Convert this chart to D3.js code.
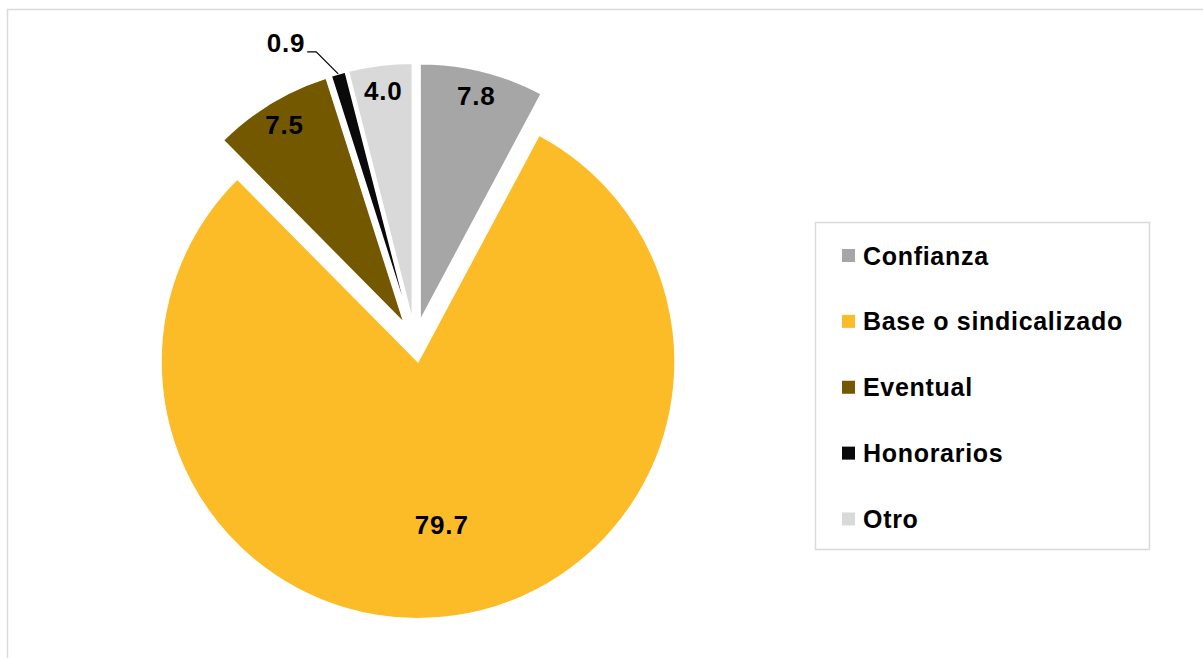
<!DOCTYPE html>
<meta charset='utf-8'>
<html>

<head>
    <script src="https://cdn.jsdelivr.net/npm/d3@7"></script>
    <style>
        body {
            padding: 0;
            margin: 0;
            background: #fff;
        }

        svg text {
            font-family: "Liberation Sans", Arial, sans-serif;
            font-weight: bold;
        }
    </style>
</head>

<body>
    <div id="chart"></div>

    <script>
        // datos
        const categories = ["Confianza", "Base o sindicalizado", "Eventual", "Honorarios", "Otro"];
        const values = [7.8, 79.7, 7.5, 0.9, 4.0];
        const colors = ["#a6a6a6", "#fbbc28", "#745800", "#0a0a0a", "#d9d9d9"];

        const width = 1203, height = 658;
        const cx = 415, cy = 341, radius = 257, explode = 21;

        var svg = d3.select("#chart").append("svg")
            .attr("width", width)
            .attr("height", height);

        // marco exterior
        svg.append("rect")
            .attr("x", 7.5).attr("y", 9.5)
            .attr("width", width).attr("height", height)
            .attr("fill", "none")
            .attr("stroke", "#d9d9d9")
            .attr("stroke-width", 1.5);

        var pie = d3.pie().sort(null).value(d => d);
        var arc = d3.arc().innerRadius(0).outerRadius(radius);
        var arcs = pie(values);

        var mid = d => (d.startAngle + d.endAngle) / 2;
        var shift = d => [explode * Math.sin(mid(d)), -explode * Math.cos(mid(d))];

        var g = svg.append("g").attr("transform", "translate(" + cx + "," + cy + ")");

        var slices = g.selectAll(".slice")
            .data(arcs)
            .enter()
            .append("g")
            .attr("class", "slice")
            .attr("transform", d => "translate(" + shift(d) + ")");

        slices.append("path")
            .attr("d", arc)
            .attr("fill", (d, i) => colors[i])
            .attr("stroke", "#fff")
            .attr("stroke-width", 1.5);

        // etiquetas
        slices.each(function (d, i) {
            var a = mid(d);
            var sel = d3.select(this);
            if (values[i] < 2) {
                // etiqueta fuera con linea guia
                var ox = radius * Math.sin(a), oy = -radius * Math.cos(a);
                var ex = ox - 22, ey = oy - 22;
                sel.append("polyline")
                    .attr("points", [[ox, oy], [ex, ey], [ex - 9, ey]].join(" "))
                    .attr("fill", "none")
                    .attr("stroke", "#000")
                    .attr("stroke-width", 1.2);
                sel.append("text")
                    .attr("x", ex - 11)
                    .attr("y", ey + 0.5)
                    .attr("text-anchor", "end")
                    .attr("font-size", 26)
                    .attr("letter-spacing", 0.8)
                    .text(values[i].toFixed(1));
            } else {
                var lr = values[i] > 50 ? radius * 0.64 : radius * 0.9;
                sel.append("text")
                    .attr("x", lr * Math.sin(a))
                    .attr("y", -lr * Math.cos(a))
                    .attr("dy", "0.35em")
                    .attr("text-anchor", "middle")
                    .attr("font-size", 26)
                    .attr("letter-spacing", 0.8)
                    .text(values[i].toFixed(1));
            }
        });

        // leyenda
        var legend = svg.append("g");
        legend.append("rect")
            .attr("x", 815.5).attr("y", 222.5)
            .attr("width", 334).attr("height", 327)
            .attr("fill", "#fff")
            .attr("stroke", "#d9d9d9")
            .attr("stroke-width", 1.5);

        var ly = d3.scalePoint().domain(categories).range([255.5, 519]);

        var items = legend.selectAll(".item")
            .data(categories)
            .enter()
            .append("g")
            .attr("transform", d => "translate(842," + ly(d) + ")");

        items.append("rect")
            .attr("x", 0).attr("y", -6.5)
            .attr("width", 13).attr("height", 13)
            .attr("fill", (d, i) => colors[i]);

        items.append("text")
            .attr("x", 21)
            .attr("dy", "0.36em")
            .attr("font-size", 25)
            .attr("letter-spacing", 0.7)
            .text(d => d);
    </script>
</body>

</html>
